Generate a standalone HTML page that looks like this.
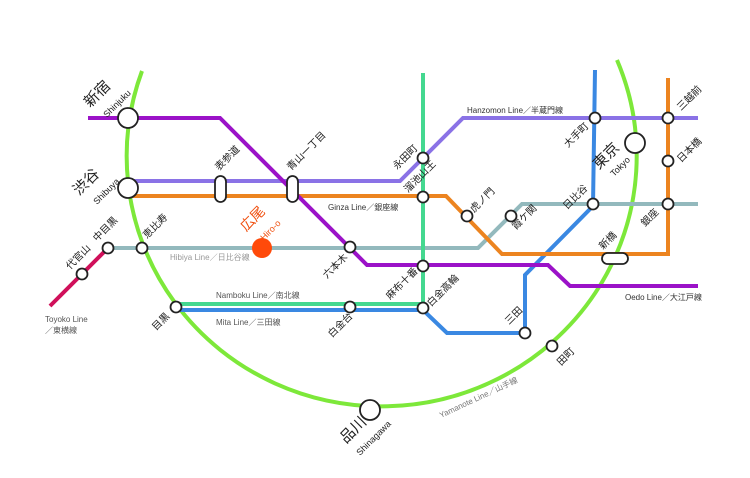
<!DOCTYPE html>
<html><head><meta charset="utf-8"><style>
html,body{margin:0;padding:0;background:#fff;}
svg{display:block;font-family:"Liberation Sans","Noto Sans CJK JP",sans-serif;}
.s{font-size:10px;fill:#222;}
.b{font-size:15px;fill:#222;}
.e{font-size:9px;fill:#222;}
.l{font-size:8px;fill:#333;}
</style></head><body>
<svg width="750" height="478" viewBox="0 0 750 478" xmlns="http://www.w3.org/2000/svg">
<rect width="750" height="478" fill="#fff"/>
<g fill="none" stroke-width="4" stroke-linejoin="miter">
<path d="M142,71 A255,250 0 1 0 617,60" stroke="#7de83a"/>
<path d="M50,306 L108,248" stroke="#d0105a"/>
<path d="M108,248 L478,248 L522,204 L698,204" stroke="#93b9bd"/>
<path d="M423,73 L423,304 L176,304" stroke="#44d890"/>
<path d="M176,310 L423,310 L447,333 L525,333 L525,275 L593,206 L595,70" stroke="#3a88e2"/>
<path d="M128,196 L446,196 L502,254 L668,254 L668,78" stroke="#ec8420"/>
<path d="M128,181 L400,181 L463,118 L698,118" stroke="#8a72e6"/>
<path d="M88,118 L220,118 L367,265 L548,265 L570,286 L698,286" stroke="#9b12c8"/>
</g>
<g fill="#fff" stroke="#222" stroke-width="1.8">
<circle cx="128" cy="118" r="10"/>
<circle cx="128" cy="188" r="10"/>
<circle cx="370" cy="410" r="10"/>
<circle cx="635" cy="143" r="10"/>
<rect x="215" y="176" width="11" height="26" rx="5.5"/>
<rect x="287" y="176" width="11" height="26" rx="5.5"/>
<rect x="602" y="253" width="26" height="11" rx="5.5"/>
<circle cx="82" cy="274" r="5.5"/>
<circle cx="108" cy="248" r="5.5"/>
<circle cx="142" cy="248" r="5.5"/>
<circle cx="350" cy="247" r="5.5"/>
<circle cx="176" cy="307" r="5.5"/>
<circle cx="350" cy="307" r="5.5"/>
<circle cx="423" cy="308" r="5.5"/>
<circle cx="423" cy="266" r="5.5"/>
<circle cx="423" cy="197" r="5.5"/>
<circle cx="423" cy="158" r="5.5"/>
<circle cx="467" cy="216" r="5.5"/>
<circle cx="511" cy="216" r="5.5"/>
<circle cx="593" cy="204" r="5.5"/>
<circle cx="595" cy="118" r="5.5"/>
<circle cx="668" cy="118" r="5.5"/>
<circle cx="668" cy="161" r="5.5"/>
<circle cx="668" cy="204" r="5.5"/>
<circle cx="525" cy="333" r="5.5"/>
<circle cx="552" cy="346" r="5.5"/>
</g>
<circle cx="262" cy="248" r="10" fill="#ff4a0a"/>
<text class="b" transform="translate(90,108) rotate(-45)">新宿</text>
<text class="e" transform="translate(107,118) rotate(-45)">Shinjuku</text>
<text class="b" transform="translate(79,196) rotate(-45)">渋谷</text>
<text class="e" transform="translate(97,205) rotate(-45)">Shibuya</text>
<text class="s" transform="translate(219,171) rotate(-45)">表参道</text>
<text class="s" transform="translate(291,171) rotate(-45)">青山一丁目</text>
<text class="s" transform="translate(147,239) rotate(-45)">恵比寿</text>
<text class="s" transform="translate(97,242) rotate(-45)">中目黒</text>
<text class="s" transform="translate(70,270) rotate(-45)">代官山</text>
<text style="font-size:14px;fill:#f05010" transform="translate(246,232) rotate(-45)">広尾</text>
<text style="font-size:9px;fill:#f05010" transform="translate(264,241) rotate(-45)">Hiro-o</text>
<text class="s" transform="translate(327,279) rotate(-45)">六本木</text>
<text class="s" transform="translate(156,331) rotate(-45)">目黒</text>
<text class="s" transform="translate(332,338) rotate(-45)">白金台</text>
<text class="s" transform="translate(397,170) rotate(-45)">永田町</text>
<text class="s" transform="translate(408,193) rotate(-45)">溜池山王</text>
<text class="s" transform="translate(474,213) rotate(-45)">虎ノ門</text>
<text class="s" transform="translate(516,230) rotate(-45)">霞ケ関</text>
<text class="s" transform="translate(567,210) rotate(-45)">日比谷</text>
<text class="s" transform="translate(568,148) rotate(-45)">大手町</text>
<text class="b" transform="translate(599,170) rotate(-45)">東京</text>
<text class="e" transform="translate(614,177) rotate(-45)">Tokyo</text>
<text class="s" transform="translate(681,111) rotate(-45)">三越前</text>
<text class="s" transform="translate(681,163) rotate(-45)">日本橋</text>
<text class="s" transform="translate(645,227) rotate(-45)">銀座</text>
<text class="s" transform="translate(603,250) rotate(-45)">新橋</text>
<text class="s" transform="translate(390,300) rotate(-45)">麻布十番</text>
<text class="s" transform="translate(431,307) rotate(-45)">白金高輪</text>
<text class="s" transform="translate(509,325) rotate(-45)">三田</text>
<text class="s" transform="translate(561,366) rotate(-45)">田町</text>
<text class="b" transform="translate(346,444) rotate(-45)">品川</text>
<text class="e" transform="translate(360,456) rotate(-45)">Shinagawa</text>
<text class="l" style="fill:#777" transform="translate(441,418) rotate(-25)">Yamanote Line／山手線</text>
<text class="l" x="467" y="113">Hanzomon Line／半蔵門線</text>
<text class="l" x="328" y="210">Ginza Line／銀座線</text>
<text class="l" x="170" y="260" style="fill:#999">Hibiya Line／日比谷線</text>
<text class="l" x="216" y="298" style="fill:#555">Namboku Line／南北線</text>
<text class="l" x="216" y="325" style="fill:#555">Mita Line／三田線</text>
<text class="l" x="625" y="300">Oedo Line／大江戸線</text>
<text class="l" x="45" y="322" style="fill:#555">Toyoko Line</text>
<text class="l" x="45" y="333" style="fill:#555">／東横線</text>
</svg>
</body></html>
